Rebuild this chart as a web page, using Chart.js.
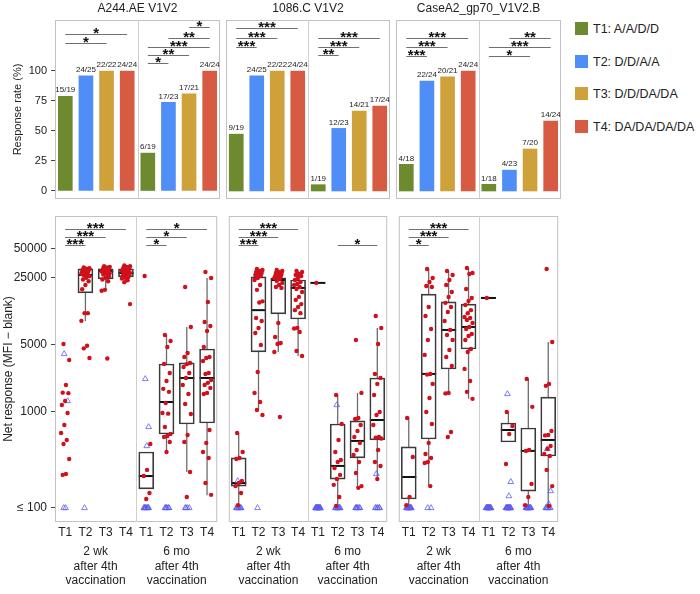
<!DOCTYPE html>
<html>
<head>
<meta charset="utf-8">
<script src="https://cdn.jsdelivr.net/npm/chart.js@4.4.1/dist/chart.umd.min.js"></script>
<style>
  body { margin: 0; background: #fff; }
  #wrap { position: relative; width: 700px; height: 594px; font-family: "Liberation Sans", Arial, sans-serif; color: #222; }
  canvas { position: absolute; }
  .leg { position: absolute; left: 575px; font-size: 12.5px; line-height: 14px; white-space: nowrap; }
  .leg span { display: inline-block; width: 13px; height: 13px; vertical-align: top; margin-right: 5px; }
</style>
</head>
<body>
<div id="wrap">
  <canvas id="top0" width="222" height="200" style="left:0;top:0"></canvas>
  <canvas id="top1" width="168" height="200" style="left:224px;top:0"></canvas>
  <canvas id="top2" width="169" height="200" style="left:394px;top:0"></canvas>
  <canvas id="bot0" width="222" height="384" style="left:0;top:210px"></canvas>
  <canvas id="bot1" width="168" height="384" style="left:224px;top:210px"></canvas>
  <canvas id="bot2" width="169" height="384" style="left:394px;top:210px"></canvas>
</div>
<script>
// Labels
const antigens = ["A244.AE V1V2", "1086.C V1V2", "CaseA2_gp70_V1V2.B"];
const armLabels = ["T1", "T2", "T3", "T4"];
const legendLabels = ["T1: A/A/D/D", "T2: D/D/A/A", "T3: D/D/DA/DA", "T4: DA/DA/DA/DA"];
const timeLabels = [["2 wk", "after 4th", "vaccination"], ["6 mo", "after 4th", "vaccination"]];
const rateTicks = [0, 25, 50, 75, 100];
const mfiTicks = [100, 1000, 5000, 25000, 50000];
const armColors = ["#6e8a2e", "#4f8ef6", "#cea13b", "#d75b43"];

// Responders / totals (2 wk T1-T4, then 6 mo T1-T4)
const respA244 = [15, 24, 22, 24, 6, 17, 17, 24];
const totA244 = [19, 25, 22, 24, 19, 23, 21, 24];
const resp1086 = [9, 24, 22, 24, 1, 12, 14, 17];
const tot1086 = [19, 25, 22, 24, 19, 23, 21, 24];
const respCaseA2 = [4, 22, 20, 24, 1, 4, 7, 14];
const totCaseA2 = [18, 24, 21, 24, 18, 23, 20, 24];

// Significance: [from, to, level, stars]
const sigRateA244 = [[0, 3, 131, "*"], [0, 2, 123, "*"], [6, 7, 137, "*"], [5, 7, 127.5, "**"], [4, 7, 120, "***"], [4, 6, 113, "**"], [4, 5, 106.5, "*"]];
const sigRate1086 = [[0, 3, 136, "***"], [0, 2, 127.5, "***"], [0, 1, 120, "***"], [4, 7, 127.5, "***"], [4, 6, 120, "***"], [4, 5, 113, "**"]];
const sigRateCaseA2 = [[0, 3, 127.5, "***"], [0, 2, 120, "***"], [0, 1, 112.5, "***"], [5, 7, 127.5, "**"], [4, 7, 120, "***"], [4, 6, 112.5, "*"]];
const sigMfiA244 = [[0, 3, 80500, "***"], [0, 2, 66500, "***"], [0, 1, 55000, "***"], [4, 7, 80500, "*"], [4, 6, 66500, "*"], [4, 5, 55000, "*"]];
const sigMfi1086 = [[0, 3, 80500, "***"], [0, 2, 66500, "***"], [0, 1, 55000, "***"], [5, 7, 55000, "*"]];
const sigMfiCaseA2 = [[0, 3, 80500, "***"], [0, 2, 66500, "***"], [0, 1, 55000, "*"]];

// Box stats [low whisker, q1, median, q3, high whisker]
const boxA244 = [null, [8870, 17400, 26700, 30900, 32400], [18700, 24300, 29400, 30900, 33000], [22600, 25500, 28000, 31000, 33000],
  [158, 158, 215, 383, 383], [383, 590, 1270, 3160, 6340], [237, 750, 2260, 3240, 7680], [136, 768, 2260, 4530, 24900]];
const box1086 = [[107, 169, 182, 332, 604], [1050, 4220, 11500, 25500, 30900], [4220, 10500, 23700, 24900, 30000], [3830, 9300, 19600, 23700, 29400],
  [22100, 22100, 22100, 22100, 22100], [102, 200, 274, 750, 1500], [161, 332, 499, 806, 1580], [200, 511, 825, 2260, 7500]];
const boxCaseA2 = [[107, 124, 210, 432, 866], [169, 523, 2490, 16900, 30900], [1580, 2800, 7150, 14000, 29400], [1370, 4530, 7680, 13300, 31600],
  [15400, 15400, 15400, 15400, 15400], [487, 487, 649, 768, 1000], [102, 150, 393, 681, 2210], [105, 348, 511, 1430, 5360]];

// Responders (net MFI)
const posA244 = [
  [5110, 3480, 1910, 1590, 1570, 1300, 1180, 976, 732, 604, 511, 464, 324, 226, 221],
  [32000, 31500, 31000, 30500, 30000, 29500, 29000, 28500, 28000, 27500, 27000, 26500, 26000, 25000, 24000, 23000, 21000, 19000, 10700, 10700, 8900, 4900, 4600, 3650],
  [33000, 32500, 32000, 31500, 31000, 30500, 30000, 30000, 29500, 29000, 29000, 28500, 28000, 27500, 27000, 26000, 25000, 24000, 23000, 18700, 18300, 3600],
  [33500, 33000, 32500, 32000, 31500, 31000, 30500, 30000, 30000, 29500, 29000, 28500, 28000, 28000, 27500, 27000, 26500, 26000, 25500, 25000, 24500, 23500, 22500, 13300],
  [26100, 464, 249, 215, 143, 124],
  [6340, 5490, 4750, 3160, 2550, 2100, 1740, 1620, 1240, 976, 960, 698, 590, 562, 549, 487, 383],
  [20000, 7680, 4120, 3740, 3240, 3150, 2940, 2550, 2260, 1910, 1540, 1210, 953, 576, 487, 237, 130],
  [28700, 24900, 14000, 8660, 7870, 6980, 4750, 3740, 3650, 3400, 2550, 2490, 2150, 2010, 1910, 1780, 1580, 1540, 649, 476, 383, 332, 182, 137]
];
const pos1086 = [
  [604, 383, 332, 324, 191, 182, 169, 143, 107],
  [30900, 30100, 29400, 28700, 28000, 27400, 26700, 26100, 24900, 23700, 21000, 18700, 14200, 13800, 9530, 8870, 7500, 6650, 4990, 2610, 1580, 1270, 1050, 931],
  [30100, 29400, 28700, 28000, 27400, 26700, 26100, 26000, 25500, 24900, 24300, 23200, 22100, 21000, 20000, 19600, 8450, 6040, 5230, 5110, 4220, 887],
  [29400, 28700, 27400, 26700, 26100, 24900, 23700, 22600, 21500, 21000, 20000, 19100, 17800, 15800, 14700, 13300, 12400, 11500, 10700, 7500, 7400, 6810, 4320, 3830],
  [22100],
  [1500, 750, 511, 383, 316, 301, 261, 221, 200, 174, 130, 105],
  [5620, 1580, 866, 845, 732, 634, 549, 476, 402, 356, 301, 231, 169, 162],
  [10000, 7500, 5110, 2490, 2260, 1960, 1500, 1000, 931, 732, 549, 540, 530, 402, 301, 274, 200]
];
const posCaseA2 = [
  [866, 340, 130, 107],
  [30900, 24900, 22600, 20500, 20000, 12400, 10000, 7320, 5620, 3930, 2490, 2450, 1960, 1400, 1000, 750, 476, 365, 332, 301, 294, 169],
  [29400, 26700, 23700, 21000, 17800, 15800, 13700, 12400, 11000, 8870, 7150, 6340, 5620, 4420, 3740, 3010, 1580, 1560, 619, 549],
  [31600, 28000, 27400, 19100, 15400, 14300, 13000, 11500, 10700, 9760, 9530, 9090, 8450, 7680, 7320, 6490, 6190, 5620, 4530, 4220, 2810, 2100, 1620, 1370],
  [15400],
  [1000, 715, 590, 287],
  [2210, 1130, 402, 393, 178, 130, 107],
  [30900, 5360, 1960, 1870, 634, 576, 570, 442, 412, 365, 348, 249, 169, 105]
];

// Non-responders (open triangles)
const negA244 = [[4020, 1300, 100, 100], [100], [], [], [2210, 698, 442, 100, 100, 100, 100, 100, 100, 100, 100, 100, 100], [100, 100, 100, 100, 100, 100], [100, 100, 100, 100], []];
const neg1086 = [[191, 100, 100, 100, 100, 100, 100, 100, 100, 100], [100], [], [], [100, 100, 100, 100, 100, 100, 100, 100, 100, 100, 100, 100, 100, 100, 100, 100, 100, 100],
  [1180, 100, 100, 100, 100, 100, 100, 100, 100, 100, 100], [100, 100, 100, 100, 100, 100, 100], [226, 100, 100, 100, 100, 100, 100]];
const negCaseA2 = [[100, 100, 100, 100, 100, 100, 100, 100, 100, 100, 100, 100, 100, 100], [100, 100], [], [], [100, 100, 100, 100, 100, 100, 100, 100, 100, 100, 100, 100, 100, 100, 100, 100, 100],
  [1540, 187, 133, 100, 100, 100, 100, 100, 100, 100, 100, 100, 100, 100, 100, 100, 100, 100, 100], [100, 100, 100, 100, 100, 100, 100, 100, 100, 100, 100, 100, 100],
  [412, 150, 110, 100, 100, 100, 100, 100, 100, 100]];

const responders = [respA244, resp1086, respCaseA2];
const totals = [totA244, tot1086, totCaseA2];
const sigRate = [sigRateA244, sigRate1086, sigRateCaseA2];
const sigMfi = [sigMfiA244, sigMfi1086, sigMfiCaseA2];
const boxes = [boxA244, box1086, boxCaseA2];
const positives = [posA244, pos1086, posCaseA2];
const negatives = [negA244, neg1086, negCaseA2];

const FONT = '"Liberation Sans", Arial, sans-serif';
Chart.defaults.font.family = FONT;
Chart.defaults.color = "#222";

function noPad(s) { s.paddingTop = 0; s.paddingBottom = 0; s.paddingLeft = 0; s.paddingRight = 0; }

// spread points sideways inside a category (positions only)
function jitter(k, span) { return ((k * 7 + 3) % 11 - 5) / 5 * span; }

function drawStars(ctx, text, cx, cy) {
  ctx.font = "bold 15px " + FONT;
  const m = ctx.measureText(text);
  const base = cy - (m.actualBoundingBoxDescent - m.actualBoundingBoxAscent) / 2;
  ctx.textAlign = "center";
  ctx.textBaseline = "alphabetic";
  ctx.fillText(text, cx, base);
}

function decor(opts) {
  return {
    id: "decor",
    beforeDatasetsDraw(chart) {
      const { ctx, chartArea: a, scales: { x, y } } = chart;
      ctx.save();
      ctx.strokeStyle = "#c2c2c2";
      ctx.lineWidth = 1;
      ctx.strokeRect(a.left + 0.5, a.top + 0.5, a.width - 1, a.height - 1);
      const mx = Math.round(x.getPixelForValue(3.5)) + 0.5;
      ctx.strokeStyle = "#cfcfcf";
      ctx.beginPath(); ctx.moveTo(mx, a.top); ctx.lineTo(mx, a.bottom); ctx.stroke();
      if (opts.boxes) {
        opts.boxes.forEach((b, i) => {
          if (!b) return;
          const xp = x.getPixelForValue(i);
          ctx.strokeStyle = "#6d6d6d";
          ctx.lineWidth = 1.3;
          ctx.beginPath();
          ctx.moveTo(xp, y.getPixelForValue(b[4])); ctx.lineTo(xp, y.getPixelForValue(b[3]));
          ctx.moveTo(xp, y.getPixelForValue(b[1])); ctx.lineTo(xp, y.getPixelForValue(b[0]));
          ctx.stroke();
          ctx.strokeStyle = "#111";
          ctx.lineWidth = 2;
          const my = y.getPixelForValue(b[2]);
          ctx.beginPath(); ctx.moveTo(xp - 7.5, my); ctx.lineTo(xp + 7.5, my); ctx.stroke();
        });
      }
      ctx.restore();
    },
    afterDatasetsDraw(chart) {
      const { ctx, scales: { x, y } } = chart;
      ctx.save();
      opts.sig.forEach(s => {
        const x1 = x.getPixelForValue(s[0]), x2 = x.getPixelForValue(s[1]);
        const ly = Math.round(y.getPixelForValue(s[2])) + 0.5;
        ctx.strokeStyle = "#707070";
        ctx.lineWidth = 1;
        ctx.beginPath(); ctx.moveTo(x1, ly); ctx.lineTo(x2, ly); ctx.stroke();
        ctx.fillStyle = "#111";
        drawStars(ctx, s[3], (x1 + x2) / 2, ly - 4);
      });
      if (opts.labels) {
        ctx.font = "8px " + FONT;
        ctx.fillStyle = "#222";
        ctx.textAlign = "center";
        ctx.textBaseline = "bottom";
        opts.labels.forEach((t, i) => {
          ctx.fillText(t, x.getPixelForValue(i), y.getPixelForValue(opts.values[i]) - 2);
        });
      }
      ctx.restore();
    },
    afterDraw(chart) {
      const { ctx, chartArea: a, scales: { x } } = chart;
      ctx.save();
      ctx.fillStyle = "#222";
      ctx.textAlign = "center";
      ctx.textBaseline = "middle";
      if (opts.title) {
        ctx.font = "12px " + FONT;
        ctx.fillText(opts.title, (a.left + a.right) / 2, a.top - 11);
      }
      if (opts.groups) {
        ctx.font = "12px " + FONT;
        opts.groups.forEach((lines, g) => {
          const cx = x.getPixelForValue(g * 4 + 1.5);
          lines.forEach((t, j) => ctx.fillText(t, cx, a.bottom + 30 + j * 14.5));
        });
      }
      ctx.restore();
    }
  };
}

function topChart(k) {
  const n = responders[k], d = totals[k];
  const pct = n.map((v, i) => v / d[i] * 100);
  new Chart(document.getElementById("top" + k), {
    type: "bar",
    data: {
      datasets: [{
        data: pct.map((v, i) => ({ x: i, y: v })),
        backgroundColor: pct.map((v, i) => armColors[i % 4]),
        barThickness: 14
      }]
    },
    options: {
      responsive: false,
      animation: false,
      layout: { padding: { left: k === 0 ? 0 : 2, right: 2, top: 20, bottom: 1 } },
      plugins: { legend: { display: false }, tooltip: { enabled: false } },
      scales: {
        x: { type: "linear", min: -0.5, max: 7.5, offset: false, display: false },
        y: {
          type: "linear", min: -6.67, max: 142.5, display: k === 0,
          afterBuildTicks: s => { s.ticks = rateTicks.map(v => ({ value: v })); },
          afterFit: s => { s.width = k === 0 ? 55 : 0; noPad(s); },
          ticks: { font: { size: 11 }, padding: 4, color: "#222" },
          grid: { drawOnChartArea: false, tickLength: 4, tickColor: "#444" },
          border: { display: false },
          title: { display: true, text: "Response rate (%)", font: { size: 11 }, padding: { top: 11, bottom: 0 }, color: "#222" }
        }
      }
    },
    plugins: [decor({ title: antigens[k], sig: sigRate[k], labels: n.map((v, i) => v + "/" + d[i]), values: pct })]
  });
}

function bottomChart(k) {
  const bx = boxes[k];
  const dots = [], tris = [];
  positives[k].forEach((vals, i) => vals.forEach((v, j) => dots.push({ x: i + jitter(j, 0.2), y: v })));
  negatives[k].forEach((vals, i) => vals.forEach((v, j) => tris.push({ x: i + jitter(j, 0.12), y: v })));
  new Chart(document.getElementById("bot" + k), {
    type: "bar",
    data: {
      datasets: [
        {
          type: "scatter", order: 0, data: dots,
          pointRadius: 2.2, pointBackgroundColor: "#d0101b", pointBorderWidth: 0
        },
        {
          type: "scatter", order: 1, data: tris,
          pointStyle: "triangle", pointRadius: 3.3, pointBackgroundColor: "rgba(0,0,0,0)",
          pointBorderColor: "#5c5cf2", pointBorderWidth: 0.8
        },
        {
          type: "bar", order: 2,
          data: bx.map((b, i) => b ? { x: i, y: [b[1], b[3]] } : null).filter(Boolean),
          backgroundColor: "rgba(255,255,255,0)", borderColor: "#3a3a3a", borderWidth: 1,
          borderSkipped: false, barThickness: 15
        }
      ]
    },
    options: {
      responsive: false,
      animation: false,
      layout: { padding: { left: k === 0 ? 0 : 2, right: 2, top: 6, bottom: 0 } },
      plugins: { legend: { display: false }, tooltip: { enabled: false } },
      scales: {
        x: {
          type: "linear", min: -0.5, max: 7.5, offset: false,
          afterBuildTicks: s => { s.ticks = [0, 1, 2, 3, 4, 5, 6, 7].map(v => ({ value: v })); },
          afterFit: s => { s.height = 72; noPad(s); },
          ticks: { callback: v => armLabels[v % 4], autoSkip: false, maxRotation: 0, font: { size: 12 }, padding: 3, color: "#222" },
          grid: { display: false, drawTicks: false, offset: false },
          border: { display: false }
        },
        y: {
          type: "logarithmic", min: 71.4, max: 110000, display: k === 0,
          afterBuildTicks: s => { s.ticks = mfiTicks.map(v => ({ value: v })); },
          afterFit: s => { s.width = k === 0 ? 55 : 0; noPad(s); },
          ticks: { callback: v => v === 100 ? "≤ 100" : String(v), font: { size: 12 }, padding: 4, color: "#222" },
          grid: { drawOnChartArea: false, tickLength: 4, tickColor: "#444" },
          border: { display: false },
          title: { display: true, text: "Net response (MFI − blank)", font: { size: 12 }, padding: { top: 1, bottom: 0 }, color: "#222" }
        }
      }
    },
    plugins: [decor({ sig: sigMfi[k], boxes: bx, groups: timeLabels })]
  });
}

[0, 1, 2].forEach(k => { topChart(k); bottomChart(k); });

// Legend
const wrap = document.getElementById("wrap");
legendLabels.forEach((t, i) => {
  const row = document.createElement("div");
  row.className = "leg";
  row.style.top = (22 + i * 32.7) + "px";
  const sw = document.createElement("span");
  sw.style.background = armColors[i];
  row.appendChild(sw);
  row.appendChild(document.createTextNode(t));
  wrap.appendChild(row);
});
</script>
</body>
</html>
